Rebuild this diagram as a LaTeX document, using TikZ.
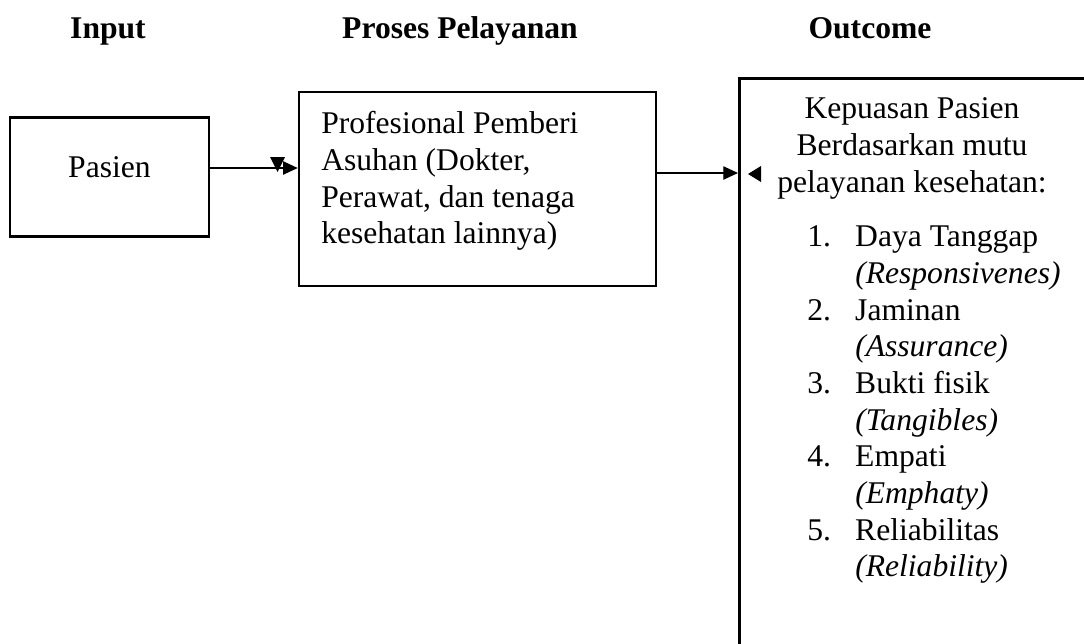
\documentclass[tikz,border=0pt]{standalone}
\usepackage{fontspec}
\setmainfont{Liberation Serif}
\usetikzlibrary{arrows.meta,positioning,calc}
\newcommand{\teks}{\fontsize{23.7}{27.5}\selectfont}

\begin{document}
\begin{tikzpicture}[x=0.75pt, y=-0.75pt,
  kotak/.style={draw, line width=1.9pt, inner sep=0pt},
  judul/.style={font=\teks\bfseries, anchor=base, inner sep=0pt},
  isi/.style={font=\teks, inner sep=0pt},
  panah/.style={line width=0.9pt, -{Triangle[length=11pt,width=10pt]}}]
  \clip (0,0) rectangle (1084,643);

  % Column titles
  \node[judul] (tInput) at (108,38) {Input};
  \node[judul] (tProses) at (460,38) {Proses Pelayanan};
  \node[judul] (tOutcome) at (870,38) {Outcome};

  % Boxes
  \node[kotak, font=\teks, minimum width=149.25pt, minimum height=89.25pt,
        text height=12pt, text depth=12pt] (pasien) at (109.5,177) {Pasien};
  \node[kotak, minimum width=267.75pt, minimum height=145.5pt] (proses) at (477.5,189) {};
  \node[isi, anchor=north west] (isiProses) at (321,108)
    {\begin{tabular}{@{}l@{}}Profesional Pemberi\\Asuhan (Dokter,\\Perawat, dan tenaga\\kesehatan lainnya)\end{tabular}};
  \node[kotak, anchor=north west, minimum width=300pt, minimum height=460pt] (hasil) at (738,77) {};

  % Outcome text
  \node[isi, anchor=north] (isiHasil) at (912,93)
    {\begin{tabular}{@{}c@{}}Kepuasan Pasien\\Berdasarkan mutu\\pelayanan kesehatan:\end{tabular}};
  \node[isi, anchor=north west] (daftar) at (807,221)
    {\begin{tabular}{@{}p{36pt}@{}l@{}}
      1. & Daya Tanggap\\ & \textit{(Responsivenes)}\\
      2. & Jaminan\\ & \textit{(Assurance)}\\
      3. & Bukti fisik\\ & \textit{(Tangibles)}\\
      4. & Empati\\ & \textit{(Emphaty)}\\
      5. & Reliabilitas\\ & \textit{(Reliability)}
    \end{tabular}};

  % Connectors
  \coordinate (a1) at ($(pasien.east)+(0,-9)$);
  \draw[panah] (a1) -- (a1 -| proses.west);
  \coordinate (a2) at ($(proses.east)+(0,-16)$);
  \draw[panah] (a2) -- (a2 -| hasil.west);

  % Stray arrowheads
  \fill (270,157) -- (285,157) -- (277.5,172) -- cycle;
  \fill (748,174) -- (761,166) -- (761,182) -- cycle;
\end{tikzpicture}
\end{document}
